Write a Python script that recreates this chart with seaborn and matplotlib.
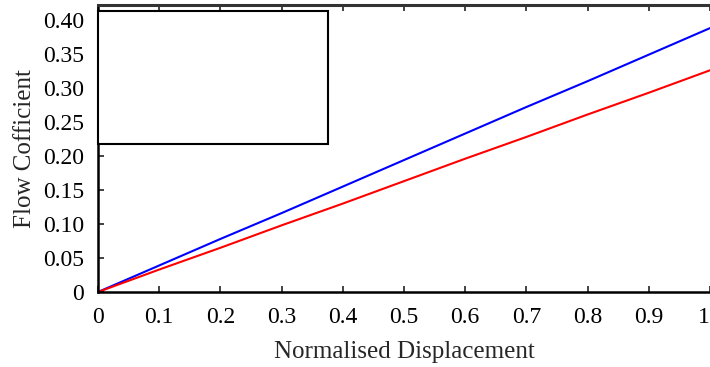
import matplotlib
matplotlib.use("Agg")
import matplotlib.pyplot as plt
import seaborn as sns
import pandas as pd
from matplotlib.patches import Rectangle

# Data
displacement = [0.0, 0.1, 0.2, 0.3, 0.4, 0.5, 0.6, 0.7, 0.8, 0.9, 1.0]
flow_blue = [0.0, 0.039, 0.078, 0.116, 0.155, 0.194, 0.233, 0.272, 0.310, 0.349, 0.388]
flow_red = [0.0, 0.033, 0.065, 0.098, 0.130, 0.163, 0.196, 0.228, 0.261, 0.293, 0.326]
x_ticks = [0, 0.1, 0.2, 0.3, 0.4, 0.5, 0.6, 0.7, 0.8, 0.9, 1.0]
x_tick_labels = ["0", "0.1", "0.2", "0.3", "0.4", "0.5", "0.6", "0.7", "0.8", "0.9", "1"]
y_ticks = [0, 0.05, 0.10, 0.15, 0.20, 0.25, 0.30, 0.35, 0.40]
y_tick_labels = ["0", "0.05", "0.10", "0.15", "0.20", "0.25", "0.30", "0.35", "0.40"]
series_names = ["Series A", "Series B"]

df = pd.concat([
    pd.DataFrame({"x": displacement, "y": flow_blue, "s": series_names[0]}),
    pd.DataFrame({"x": displacement, "y": flow_red, "s": series_names[1]}),
])

sns.set_style("white")
plt.rcParams["font.family"] = ["Liberation Serif", "DejaVu Serif"]

fig = plt.figure(figsize=(7.10, 3.67), dpi=100)
ax = fig.add_axes([98 / 710, 75 / 367, 612 / 710, 287 / 367])

sns.lineplot(data=df, x="x", y="y", hue="s",
             palette={series_names[0]: "#0000ff", series_names[1]: "#ff0000"},
             linewidth=1.5, legend=False, ax=ax)

ax.set_xlim(0, 1.0)
ax.set_ylim(0, 0.422)
ax.set_xticks(x_ticks)
ax.set_xticklabels(x_tick_labels)
ax.set_yticks(y_ticks)
ax.set_yticklabels(y_tick_labels)

ax.tick_params(axis="both", direction="in", length=4, width=1.2, labelsize=17,
               colors="#222222", labelcolor="black")
ax.tick_params(axis="x", top=True, bottom=True, pad=11)
ax.tick_params(axis="y", left=True, pad=10)
# last x label sits against the right edge of the picture
xlabels = ax.get_xticklabels()
xlabels[-1].set_horizontalalignment("right")

for side in ["left", "bottom"]:
    ax.spines[side].set_color("black")
    ax.spines[side].set_linewidth(1.8)
ax.spines["top"].set_color("#333333")
ax.spines["top"].set_linewidth(2.2)
ax.spines["right"].set_visible(False)

ax.set_xlabel("Normalised Displacement", fontsize=18, labelpad=9)
ax.set_ylabel("Flow Cofficient", fontsize=18, labelpad=5)

# empty legend frame
ax.add_patch(Rectangle((0.0, 0.516), 0.376, 0.463, transform=ax.transAxes,
                       fill=True, facecolor="white", edgecolor="black",
                       linewidth=1.5, clip_on=False, zorder=5))

fig.savefig("out.png", dpi=100)
